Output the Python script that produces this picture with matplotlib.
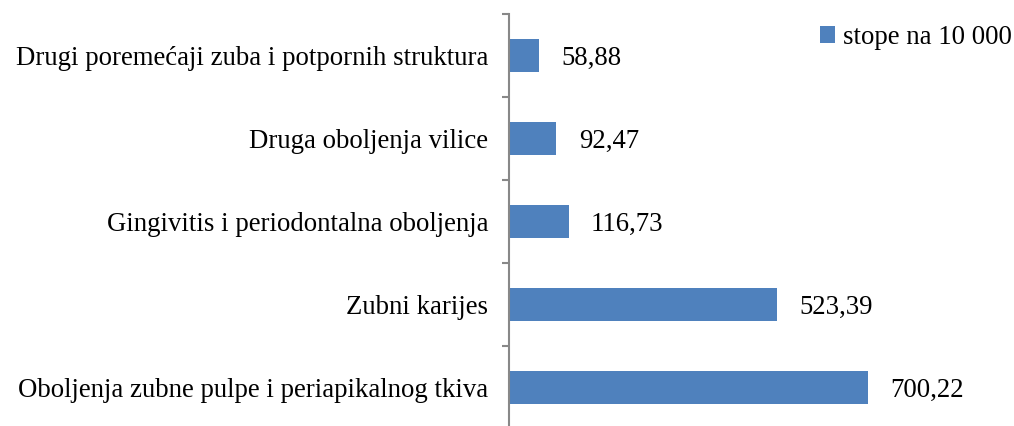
import matplotlib
matplotlib.use("Agg")
import matplotlib.pyplot as plt
import numpy as np

categories = [
    "Oboljenja zubne pulpe i periapikalnog tkiva",
    "Zubni karijes",
    "Gingivitis i periodontalna oboljenja",
    "Druga oboljenja vilice",
    "Drugi poremećaji zuba i potpornih struktura",
]
values = [700.22, 523.39, 116.73, 92.47, 58.88]
value_labels = ["700,22", "523,39", "116,73", "92,47", "58,88"]
series_name = "stope na 10 000"

plt.rcParams['font.family'] = ['Liberation Serif', 'DejaVu Serif']

W, H = 1014, 426
fig = plt.figure(figsize=(W / 100, H / 100), dpi=100)
left_px, right_px = 509, 990
top_px, bottom_px = 14, 429
ax = fig.add_axes([left_px / W, 1 - bottom_px / H, (right_px - left_px) / W, (bottom_px - top_px) / H])

y = np.arange(len(categories))
color = "#4F81BD"
bars = ax.barh(y, values, height=0.4, color=color, label=series_name)

scale = 359 / 700.22  # px per unit
ax.set_xlim(0, (right_px - left_px) / scale)
ax.set_ylim(-0.5, len(categories) - 0.5)

fs = 19.3
for yi, v, lab in zip(y, values, value_labels):
    ax.annotate(lab, (v, yi), xytext=(16, -2), textcoords="offset points",
                ha="left", va="center", fontsize=fs, color="black")

for s in ["top", "right", "bottom"]:
    ax.spines[s].set_visible(False)
ax.spines["left"].set_color("#888888")
ax.spines["left"].set_linewidth(1.5)
ax.set_xticks([])
ax.set_yticks(y)
ax.set_yticklabels(categories, fontsize=fs)
ax.tick_params(axis="y", which="major", length=0, pad=15)
ax.set_yticks(np.arange(-0.5, len(categories), 1.0), minor=True)
ax.tick_params(axis="y", which="minor", length=5, width=1.5, color="#888888")

leg = ax.legend(loc="upper left", bbox_to_anchor=(820 / W, 1 - 25 / H), bbox_transform=fig.transFigure,
                frameon=False, fontsize=fs, handlelength=0.55, handleheight=0.55,
                handletextpad=0.3, borderpad=0, borderaxespad=0)

fig.savefig("out.png", dpi=100)
